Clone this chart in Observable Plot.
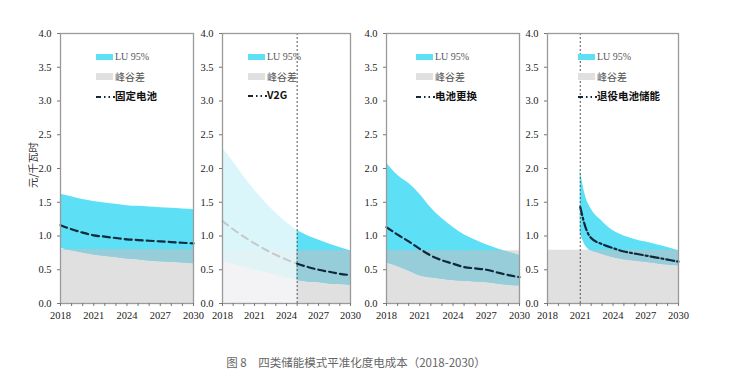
<!DOCTYPE html>
<html><head><meta charset="utf-8">
<script src="https://cdn.jsdelivr.net/npm/d3@7"></script>
<script src="https://cdn.jsdelivr.net/npm/@observablehq/plot@0.6"></script>
<style>
body{margin:0;background:#fff;}
#wrap{position:relative;width:731px;height:381px;overflow:hidden;background:#fff;}
#wrap svg.chart text{font-family:"Liberation Serif","Times New Roman",serif !important;font-size:10.5px;fill:#222;}
.lg{position:absolute;font-size:10px;color:#555;white-space:nowrap;line-height:12px;}
.sw{position:absolute;}
</style></head><body><div id="wrap"></div>
<script>
// ---- data ----
const years = [2018,2019,2020,2021,2022,2023,2024,2025,2026,2027,2028,2029,2030];
const xTickLabels = [2018,2021,2024,2027,2030];
const yTicks = [0,0.5,1,1.5,2,2.5,3,3.5,4];

// 固定电池
const fixedUpper = [1.62,1.58,1.54,1.51,1.49,1.47,1.45,1.44,1.43,1.42,1.41,1.40,1.39];
const fixedLower = [0.82,0.78,0.75,0.72,0.70,0.68,0.66,0.65,0.63,0.62,0.61,0.60,0.59];
const fixedMid   = [1.16,1.10,1.05,1.01,0.99,0.97,0.95,0.94,0.93,0.92,0.91,0.90,0.89];
const fixedGap = 0.80;

// V2G
const v2gUpper = [2.30,2.10,1.88,1.68,1.50,1.34,1.20,1.08,1.00,0.94,0.88,0.83,0.78];
const v2gLower = [0.62,0.58,0.54,0.50,0.46,0.42,0.38,0.34,0.32,0.31,0.29,0.28,0.27];
const v2gMid   = [1.22,1.10,0.99,0.89,0.80,0.72,0.65,0.59,0.54,0.50,0.47,0.44,0.42];
const v2gGap = 0.78;
const v2gStart = 2025;

// 电池更换
const swapUpper = [2.08,1.90,1.78,1.62,1.42,1.26,1.13,1.02,0.94,0.87,0.81,0.76,0.71];
const swapLower = [0.60,0.55,0.48,0.41,0.38,0.36,0.34,0.33,0.32,0.31,0.29,0.27,0.26];
const swapMid   = [1.13,1.02,0.92,0.81,0.71,0.64,0.59,0.54,0.52,0.50,0.46,0.42,0.39];
const swapGap = 0.78;

// 退役电池储能
const retiredYears = [2021,2021.5,2022,2023,2024,2025,2026,2027,2028,2029,2030];
const retiredUpper = [1.97,1.58,1.40,1.22,1.08,1.00,0.95,0.91,0.87,0.83,0.78];
const retiredLower = [1.03,0.85,0.78,0.73,0.68,0.65,0.63,0.61,0.59,0.57,0.56];
const retiredMid   = [1.43,1.12,0.97,0.88,0.82,0.77,0.74,0.71,0.68,0.65,0.62];
const retiredGap = 0.79;
const retiredStart = 2021;

const seriesNames = ["固定电池","V2G","电池更换","退役电池储能"];
const legendLabels = ["LU 95%","峰谷差"];
const caption = "图 8　四类储能模式平准化度电成本（2018-2030）";
const yLabel = "元/千瓦时";

// ---- style ----
const C = {cyan:"#5ddff5", gray:"#e0e0e0", overlap:"#97cdd8",
  fCyan:"#daf6fa", fGray:"#f3f3f6", fOverlap:"#e2f3f6",
  line:"#10283b", fLine:"#c8c8c8", frame:"#9a9a9a"};

const wrap = document.getElementById("wrap");

function panel(o){
  const rows = o.years.map((x,i)=>({x, u:o.U[i], l:o.L[i], m:o.M[i]}));
  const gRows = years.map(x=>({x, g:o.G}));
  const marks = [];
  const cut = o.cut;
  const fadedBefore = o.fade;
  const split = (arr, pre) => fadedBefore ? arr.filter(d => pre ? d.x <= cut : d.x >= cut) : (pre ? [] : arr);
  marks.push(Plot.areaY(split(gRows,true), {x:"x", y1:0, y2:"g", fill:C.fGray}));
  marks.push(Plot.areaY(split(gRows,false), {x:"x", y1:0, y2:"g", fill:C.gray}));
  const band = (data, cy, ov) => [
    Plot.areaY(data, {x:"x", y1:"l", y2:"u", fill:cy, curve:"monotone-x"}),
    Plot.areaY(data, {x:"x", y1:d=>Math.min(d.l,o.G), y2:d=>Math.min(d.u,o.G), fill:ov, curve:"monotone-x"})
  ];
  marks.push(...band(split(rows,true), C.fCyan, C.fOverlap));
  marks.push(...band(split(rows,false), C.cyan, C.overlap));
  marks.push(Plot.lineY(split(rows,true), {x:"x", y:"m", stroke:C.fLine, strokeWidth:2, strokeDasharray:"7,5", curve:"monotone-x"}));
  marks.push(Plot.lineY(split(rows,false), {x:"x", y:"m", stroke:C.line, strokeWidth:2.2, strokeDasharray:o.dash, curve:"monotone-x"}));
  if (cut != null) marks.push(Plot.ruleX([cut], {stroke:"#555", strokeWidth:1, strokeDasharray:"2,2"}));
  marks.push(Plot.frame({stroke:C.frame, strokeWidth:1.3}));
  marks.push(Plot.axisY({ticks:yTicks, tickFormat:d3.format(".1f"), tickSize:3, tickPadding:6, label:null, stroke:"#777"}));
  marks.push(Plot.axisX({ticks:years, tickFormat:d=>xTickLabels.includes(d)?String(d):"", tickSize:3, tickPadding:5, label:null, stroke:"#777"}));
  const ml = 32;
  const svg = Plot.plot({
    width: ml + o.w + 4, height: 330, marginTop:33, marginBottom:27, marginLeft:ml, marginRight:4,
    x:{domain:[2018,2030]}, y:{domain:[0,4]},
    style:{fontSize:"10.5px", color:"#222", background:"transparent", overflow:"visible"},
    marks
  });
  svg.classList.add("chart");
  svg.style.position="absolute"; svg.style.left=(o.left-ml)+"px"; svg.style.top="0px";
  wrap.appendChild(svg);
  // legend
  const lx = o.lx, tx = o.lx + 19;
  const sw1 = document.createElement("div"); sw1.className="sw";
  Object.assign(sw1.style,{left:lx+"px",top:"54px",width:"17px",height:"6px",background:C.cyan});
  const sw2 = document.createElement("div"); sw2.className="sw";
  Object.assign(sw2.style,{left:lx+"px",top:"73px",width:"17px",height:"7px",background:C.gray});
  const t1 = document.createElement("div"); t1.className="lg"; t1.textContent=legendLabels[0];
  Object.assign(t1.style,{left:tx+"px",top:"51px",fontFamily:"'Liberation Serif', serif"});
  const t2 = document.createElement("div"); t2.className="lg"; t2.textContent=legendLabels[1];
  Object.assign(t2.style,{left:tx+"px",top:"71px",fontFamily:"'Noto Sans CJK SC', sans-serif"});
  const ns = "http://www.w3.org/2000/svg";
  const ls = document.createElementNS(ns,"svg"); ls.setAttribute("width","19"); ls.setAttribute("height","6");
  ls.style.position="absolute"; ls.style.left=lx+"px"; ls.style.top=(o.ly-3)+"px";
  const ln = document.createElementNS(ns,"line");
  ln.setAttribute("x1","0");ln.setAttribute("x2","19");ln.setAttribute("y1","3");ln.setAttribute("y2","3");
  ln.setAttribute("stroke",C.line);ln.setAttribute("stroke-width","2.2");ln.setAttribute("stroke-dasharray","5,3,1.5,3,1.5,3");
  ls.appendChild(ln);
  const t3 = document.createElement("div"); t3.className="lg"; t3.textContent=o.name;
  Object.assign(t3.style,{left:tx+"px",top:(o.ly-7)+"px",fontFamily:"'Noto Sans CJK SC', sans-serif",fontWeight:"bold",color:"#111",fontSize:"10.5px"});
  [sw1,sw2,t1,t2,ls,t3].forEach(e=>wrap.appendChild(e));
}

panel({years, U:fixedUpper, L:fixedLower, M:fixedMid, G:fixedGap, left:60, w:133, dash:"7,4", name:seriesNames[0], lx:96, ly:97});
panel({years, U:v2gUpper, L:v2gLower, M:v2gMid, G:v2gGap, left:222, w:128, dash:"7,4", cut:v2gStart, fade:true, name:seriesNames[1], lx:248, ly:96});
panel({years, U:swapUpper, L:swapLower, M:swapMid, G:swapGap, left:386, w:133, dash:"7,4", name:seriesNames[2], lx:416, ly:97});
panel({years:retiredYears, U:retiredUpper, L:retiredLower, M:retiredMid, G:retiredGap, left:547, w:131, dash:"8,3,2,3", cut:retiredStart, name:seriesNames[3], lx:578, ly:97});

// y label
const yl = document.createElement("div");
yl.textContent = yLabel;
Object.assign(yl.style,{position:"absolute",left:"32px",top:"165px",transform:"translate(-50%,-50%) rotate(-90deg)",fontFamily:"'Noto Sans CJK SC', sans-serif",fontSize:"10.5px",color:"#333",whiteSpace:"nowrap"});
wrap.appendChild(yl);

// caption
const cap = document.createElement("div");
cap.textContent = caption;
Object.assign(cap.style,{position:"absolute",left:"0",width:"712px",top:"354px",textAlign:"center",fontFamily:"'Noto Sans CJK SC', sans-serif",fontSize:"11.5px",color:"#666",whiteSpace:"nowrap"});
wrap.appendChild(cap);
</script></body></html>
